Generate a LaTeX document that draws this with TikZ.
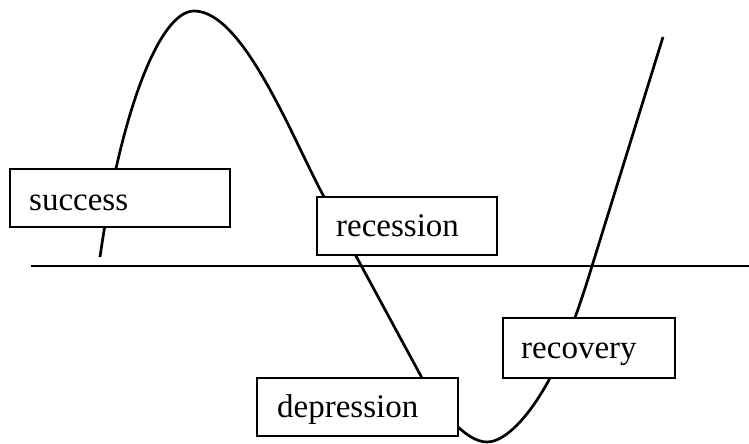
\documentclass[tikz,border=0pt]{standalone}
\usepackage{fontspec}
\setmainfont{Liberation Serif}
\begin{document}
\begin{tikzpicture}[x=1pt,y=-1pt,
  stagebox/.style={draw, line width=2.8pt, fill=white, inner sep=0pt},
  stagetext/.style={anchor=base west, inner sep=0pt, font=\fontsize{33}{36}\selectfont},
  curveline/.style={line width=2.7pt, line join=round, line cap=butt},
  axisline/.style={line width=2.5pt}]
\useasboundingbox (0,0) rectangle (749,444);
% horizontal reference line
\coordinate (axL) at (31,266);
\coordinate (axR) at (749,266);
\draw[axisline] (axL) -- (axR);
% business cycle curve
\coordinate (cStart) at (100,257);
\coordinate (cPeak) at (194,11);
\coordinate (cFall) at (323,195);
\coordinate (cDip) at (422,378);
\coordinate (cLow) at (487,442);
\coordinate (cRise) at (550,378);
\coordinate (cCross) at (592,266);
\coordinate (cEnd) at (663,37);
\draw[curveline] (cStart) .. controls (121,110) and (160,11) .. (cPeak)
  .. controls (243,11) and (291,135) .. (cFall)
  -- (cDip)
  .. controls (438,408) and (465,442) .. (cLow)
  .. controls (507,442) and (532,412) .. (cRise)
  .. controls (563,353) and (580,306) .. (cCross)
  -- (cEnd);
% stage boxes
\node[stagebox, minimum width=220, minimum height=58] (success) at (120,198) {};
\node[stagebox, minimum width=180, minimum height=58] (recession) at (407,226) {};
\node[stagebox, minimum width=201, minimum height=58] (depression) at (357.5,407) {};
\node[stagebox, minimum width=172, minimum height=60] (recovery) at (589,348) {};
% stage labels
\node[stagetext] (tsuccess) at (29,210) {success};
\node[stagetext] (trecession) at (336,236) {recession};
\node[stagetext] (tdepression) at (277,417) {depression};
\node[stagetext] (trecovery) at (521,358) {recovery};
\end{tikzpicture}
\end{document}
